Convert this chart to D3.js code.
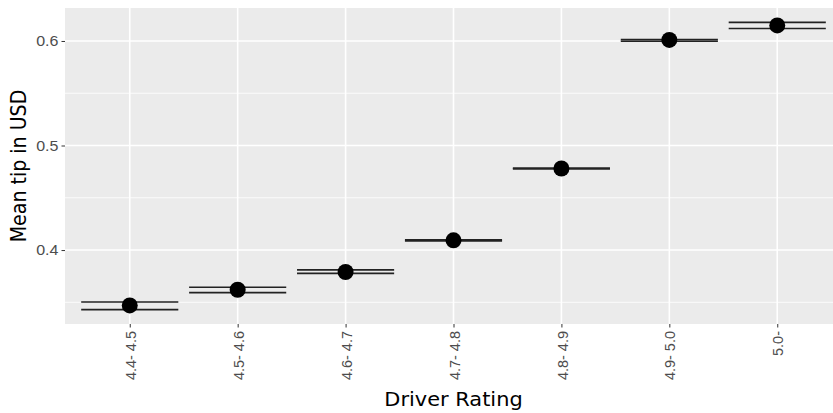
<!DOCTYPE html>
<html>
<head>
<meta charset="utf-8">
<script src="https://cdn.jsdelivr.net/npm/d3@7"></script>
<style>
  body { margin: 0; background: #fff; }
  svg { display: block; font-family: "DejaVu Sans", sans-serif; }
</style>
</head>
<body>
<script>
// data
var categories = ["4.4- 4.5", "4.5- 4.6", "4.6- 4.7", "4.7- 4.8", "4.8- 4.9", "4.9- 5.0", "5.0-"];
var meanTip = [0.347, 0.362, 0.379, 0.4093, 0.478, 0.601, 0.6149];
var lowerTip = [0.343, 0.3593, 0.3777, 0.4088, 0.4776, 0.5997, 0.612];
var upperTip = [0.3503, 0.3644, 0.381, 0.4098, 0.4784, 0.6013, 0.6178];
var yTicks = [0.4, 0.5, 0.6];

var rows = categories.map((c, i) => ({cat: c, mean: meanTip[i], lo: lowerTip[i], hi: upperTip[i]}));

var width = 833, height = 413;
var panel_left = 65, panel_top = 8, panel_bottom = 324, panel_right = 842;

var svg = d3.select('body').append('svg')
  .attr('width', width)
  .attr('height', height);

// y domain like ggplot: data range expanded by 5%
var yMin = d3.min(lowerTip), yMax = d3.max(upperTip);
var pad = (yMax - yMin) * 0.05;
var y = d3.scaleLinear().domain([yMin - pad, yMax + pad]).range([panel_bottom, panel_top]);
var x = d3.scalePoint().domain(categories).range([panel_left, panel_right]).padding(0.6);
var halfW = x.step() * 0.45;

// panel
svg.append('rect')
  .attr('x', panel_left).attr('y', panel_top)
  .attr('width', panel_right - panel_left).attr('height', panel_bottom - panel_top)
  .attr('fill', '#EBEBEB');

// minor gridlines
var minor = [0.35, 0.45, 0.55];
svg.selectAll('.minor').data(minor).enter().append('line')
  .attr('x1', panel_left).attr('x2', panel_right)
  .attr('y1', d => y(d)).attr('y2', d => y(d))
  .attr('stroke', '#fff').attr('stroke-width', 0.8);

// major gridlines
svg.selectAll('.hmajor').data(yTicks).enter().append('line')
  .attr('x1', panel_left).attr('x2', panel_right)
  .attr('y1', d => y(d)).attr('y2', d => y(d))
  .attr('stroke', '#fff').attr('stroke-width', 1.6);
svg.selectAll('.vmajor').data(categories).enter().append('line')
  .attr('x1', d => x(d)).attr('x2', d => x(d))
  .attr('y1', panel_top).attr('y2', panel_bottom)
  .attr('stroke', '#fff').attr('stroke-width', 1.6);

// axes
var yAxis = svg.append('g')
  .attr('transform', 'translate(' + panel_left + ',0)')
  .call(d3.axisLeft(y).tickValues(yTicks).tickFormat(d3.format('.1f')).tickSize(3.5).tickPadding(3));
yAxis.select('.domain').remove();
yAxis.selectAll('line').attr('stroke', '#333');
yAxis.selectAll('text')
  .attr('x', 0)
  .attr('transform', d => 'translate(-6.5,0) scale(1.07,1)')
  .attr('fill', '#4d4d4d').style('font-size', '15px');

var xAxis = svg.append('g')
  .attr('transform', 'translate(0,' + panel_bottom + ')')
  .call(d3.axisBottom(x).tickSize(3.5));
xAxis.select('.domain').remove();
xAxis.selectAll('line').attr('stroke', '#333');
xAxis.selectAll('text')
  .attr('transform', 'scale(1.07,1) rotate(-90)')
  .attr('x', -7).attr('y', 0).attr('dy', '0.36em')
  .attr('text-anchor', 'end')
  .attr('fill', '#4d4d4d')
  .style('font-size', '14.5px');

// error bars
var bars = svg.append('g');
bars.selectAll('.lo').data(rows).enter().append('line')
  .attr('x1', d => x(d.cat) - halfW).attr('x2', d => x(d.cat) + halfW)
  .attr('y1', d => y(d.lo)).attr('y2', d => y(d.lo))
  .attr('stroke', '#222').attr('stroke-width', 1.6);
bars.selectAll('.hi').data(rows).enter().append('line')
  .attr('x1', d => x(d.cat) - halfW).attr('x2', d => x(d.cat) + halfW)
  .attr('y1', d => y(d.hi)).attr('y2', d => y(d.hi))
  .attr('stroke', '#222').attr('stroke-width', 1.6);
bars.selectAll('.mid').data(rows).enter().append('line')
  .attr('x1', d => x(d.cat)).attr('x2', d => x(d.cat))
  .attr('y1', d => y(d.lo)).attr('y2', d => y(d.hi))
  .attr('stroke', '#222').attr('stroke-width', 1.6);

// points
svg.selectAll('.pt').data(rows).enter().append('circle')
  .attr('cx', d => x(d.cat))
  .attr('cy', d => y(d.mean))
  .attr('r', 8)
  .attr('fill', '#000');

// axis titles
svg.append('text').text('Driver Rating')
  .attr('transform', 'translate(' + ((panel_left + panel_right) / 2) + ',406) scale(1.1,1)')
  .attr('text-anchor', 'middle')
  .style('font-size', '19px').attr('fill', '#000');
svg.append('text').text('Mean tip in USD')
  .attr('transform', 'translate(26,' + ((panel_top + panel_bottom) / 2) + ') scale(1.1,1) rotate(-90)')
  .attr('text-anchor', 'middle')
  .style('font-size', '19px').attr('fill', '#000');
</script>
</body>
</html>
